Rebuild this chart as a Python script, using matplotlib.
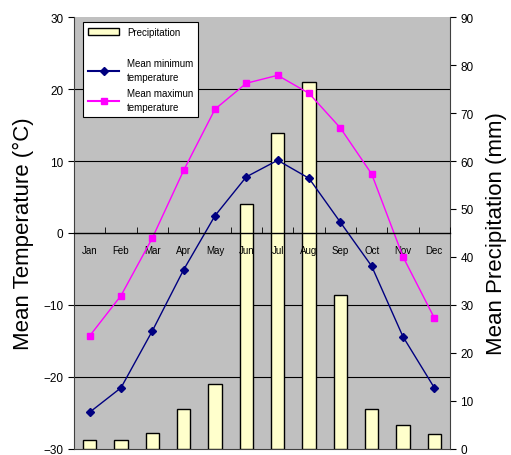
import matplotlib
matplotlib.use("Agg")
import matplotlib.pyplot as plt
from matplotlib.patches import Patch
from matplotlib.lines import Line2D

plt.rcParams["font.family"] = ["Liberation Sans", "DejaVu Sans"]

months = ["Jan", "Feb", "Mar", "Apr", "May", "Jun",
          "Jul", "Aug", "Sep", "Oct", "Nov", "Dec"]
precip = [1.9, 1.9, 3.3, 8.3, 13.5, 51.0, 65.8, 76.5, 32.0, 8.3, 5.0, 3.1]
t_min = [-24.9, -21.5, -13.6, -5.1, 2.4, 7.8, 10.1, 7.6, 1.5, -4.6, -14.4, -21.5]
t_max = [-14.3, -8.7, -0.7, 8.7, 17.2, 20.8, 21.9, 19.4, 14.6, 8.2, -3.3, -11.8]

fig = plt.figure(figsize=(5.11, 4.56), dpi=100)
ax_t = fig.add_axes([0.1448, 0.0132, 0.7358, 0.9473])
ax_p = ax_t.twinx()

# precipitation bars sit behind the temperature curves
ax_t.set_zorder(2)
ax_p.set_zorder(1)
ax_t.patch.set_visible(False)
ax_p.patch.set_visible(True)
ax_p.patch.set_facecolor("#C0C0C0")

x = list(range(len(months)))
ax_p.bar(x, precip, width=0.42, color="#FFFFCC", edgecolor="black", linewidth=1.0, zorder=3)
ax_p.set_ylim(0, 90)
ax_p.set_yticks(range(0, 91, 10))

# temperature grid lines (drawn on the precipitation axis so bars cover them)
for t in [-20, -10, 10, 20]:
    ax_p.axhline((t + 30) * 1.5, color="black", linewidth=0.8, zorder=1)

ax_t.plot(x, t_min, color="#000080", marker="D", markersize=4, linewidth=1.0)
ax_t.plot(x, t_max, color="#FF00FF", marker="s", markersize=4.5, linewidth=1.0)
ax_t.set_ylim(-30, 30)
ax_t.set_yticks(range(-30, 31, 10))
ax_t.set_xlim(-0.5, 11.5)

# category axis along the 0 degree line
ax_t.spines["bottom"].set_position(("data", 0))
ax_t.spines["bottom"].set_color("black")
ax_t.spines["bottom"].set_linewidth(1.0)
ax_t.set_xticks(x)
ax_t.set_xticklabels(months, fontsize=7)
ax_t.set_xticks([i + 0.5 for i in range(-1, 12)], minor=True)
ax_t.tick_params(axis="x", which="major", length=0, pad=9)
ax_t.tick_params(axis="x", which="minor", direction="in", length=4, color="black")
ax_t.tick_params(axis="y", labelsize=8.5, length=4, direction="out")
ax_p.tick_params(axis="y", labelsize=8.5, length=4, direction="out")

for a in (ax_t, ax_p):
    a.spines["top"].set_visible(False)
ax_t.spines["right"].set_visible(False)
ax_t.spines["left"].set_color("#404040")
ax_p.spines["left"].set_visible(False)
ax_p.spines["right"].set_color("#404040")
ax_p.spines["bottom"].set_color("#404040")

ax_t.set_ylabel("Mean Temperature (°C)", fontsize=16, labelpad=7)
ax_p.set_ylabel("Mean Precipitation (mm)", fontsize=16, labelpad=9)

handles = [
    Patch(facecolor="#FFFFCC", edgecolor="black"),
    Line2D([], [], color="none"),
    Line2D([], [], color="#000080", marker="D", markersize=4),
    Line2D([], [], color="#FF00FF", marker="s", markersize=4.5),
]
labels = ["Precipitation", "", "Mean minimum\ntemperature", "Mean maximun\ntemperature"]
leg = ax_t.legend(handles, labels, loc="upper left", bbox_to_anchor=(0.012, 1.0),
                  fontsize=7, frameon=True, fancybox=False, edgecolor="black",
                  facecolor="white", framealpha=1, handlelength=3.2,
                  labelspacing=0.6, borderpad=0.5)
leg.get_frame().set_linewidth(0.8)
for txt in leg.get_texts():
    txt.set_linespacing(1.5)

fig.savefig("out.png", dpi=100)
